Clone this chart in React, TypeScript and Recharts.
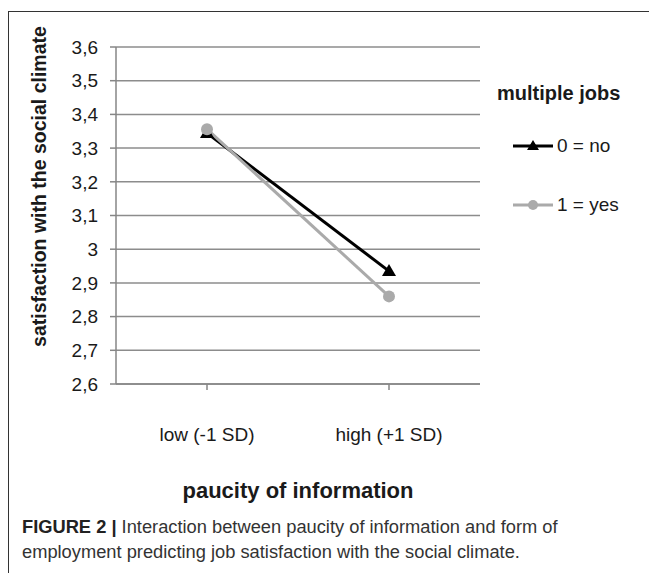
import React from 'react';
import { LineChart, Line, XAxis, YAxis, CartesianGrid, Label } from 'recharts';

const categories = ['low (-1 SD)', 'high (+1 SD)'];
const noJobs = [3.345, 2.935];
const yesJobs = [3.356, 2.86];
const yTicks = [2.6, 2.7, 2.8, 2.9, 3.0, 3.1, 3.2, 3.3, 3.4, 3.5, 3.6];

const seriesInfo = [
  { key: 'no', name: '0 = no', color: '#000000', marker: 'triangle' },
  { key: 'yes', name: '1 = yes', color: '#aaaaaa', marker: 'circle' },
];

const data = categories.map((c, i) => ({ name: c, no: noJobs[i], yes: yesJobs[i] }));

const FONT = '"Liberation Sans", Arial, sans-serif';
const TEXT = '#1a1a1a';

const fmt = (v: number) => String(Math.round(v * 10) / 10).replace('.', ',');

const Triangle = (props: any) => {
  const { cx, cy, fill } = props;
  if (cx == null || cy == null) return null;
  return <polygon points={`${cx},${cy - 7} ${cx + 7},${cy + 5} ${cx - 7},${cy + 5}`} fill={fill} />;
};

const Marker = ({ type, color, cx, cy }: { type: string; color: string; cx: number; cy: number }) =>
  type === 'triangle' ? (
    <polygon points={`${cx},${cy - 6} ${cx + 6},${cy + 4} ${cx - 6},${cy + 4}`} fill={color} />
  ) : (
    <circle cx={cx} cy={cy} r={5} fill={color} />
  );

const YTitle = (props: any) => {
  const vb = props.viewBox || {};
  const x = 30;
  const y = vb.y + vb.height / 2 - 29;
  return (
    <text x={x} y={y} transform={`rotate(-90 ${x} ${y})`} textAnchor="middle" dominantBaseline="central"
      fontFamily={FONT} fontWeight="bold" fontSize={19.5} fill={TEXT}>
      satisfaction with the social climate
    </text>
  );
};

export default function App() {
  return (
    <div style={{ position: 'relative', marginTop: 3, width: 648, height: 561, borderLeft: '1.5px solid #333', borderTop: '1.5px solid #333', background: '#fff' }}>
      <div style={{ position: 'absolute', left: 0, top: 0 }}>
        <LineChart width={640} height={520} data={data} margin={{ top: 35, right: 169, left: 0, bottom: 0 }}>
          <CartesianGrid vertical={false} stroke="#8c8c8c" strokeWidth={1.5} />
          <XAxis dataKey="name" height={148} tickSize={6} tickMargin={38} stroke="#868686" strokeWidth={1.5}
            padding={{ left: 91, right: 91 }}
            tick={{ fontFamily: FONT, fontSize: 19, fill: TEXT }}>
            <Label value="paucity of information" position="insideTop" offset={98}
              style={{ fontFamily: FONT, fontWeight: 'bold', fontSize: 22, fill: TEXT }} />
          </XAxis>
          <YAxis width={107} domain={[2.6, 3.6]} ticks={yTicks} tickFormatter={fmt} tickSize={6} tickMargin={12}
            stroke="#868686" strokeWidth={1.5} interval={0}
            tick={{ fontFamily: FONT, fontSize: 19, fill: TEXT }}>
            <Label content={<YTitle />} />
          </YAxis>
          <Line dataKey="no" stroke="#000" strokeWidth={3} dot={<Triangle fill="#000" />} activeDot={false} isAnimationActive={false} />
          <Line dataKey="yes" stroke="#aaaaaa" strokeWidth={3} dot={{ r: 6, fill: '#aaaaaa', stroke: 'none' }} activeDot={false} isAnimationActive={false} />
        </LineChart>
      </div>
      <div style={{ position: 'absolute', left: 488, top: 70, fontFamily: FONT, fontWeight: 'bold', fontSize: 20, color: TEXT, whiteSpace: 'nowrap' }}>
        multiple jobs
      </div>
      {seriesInfo.map((s, i) => (
        <div key={s.key} style={{ position: 'absolute', left: 504, top: 122 + i * 59, height: 24, display: 'flex', alignItems: 'center', fontFamily: FONT, fontSize: 19, color: TEXT, whiteSpace: 'nowrap' }}>
          <svg width={40} height={24}>
            <line x1={0} y1={12} x2={40} y2={12} stroke={s.color} strokeWidth={3} />
            <Marker type={s.marker} color={s.color} cx={20} cy={12} />
          </svg>
          <span style={{ marginLeft: 4 }}>{s.name}</span>
        </div>
      ))}
      <div style={{ position: 'absolute', left: 13, top: 503, fontFamily: '"Liberation Sans Narrow", "Liberation Sans", Arial, sans-serif', fontSize: 18.3, lineHeight: '24.5px', color: '#333', whiteSpace: 'nowrap' }}>
        <span style={{ fontWeight: 'bold', color: '#222' }}>FIGURE 2 | </span>Interaction between paucity of information and form of
        <br />
        employment predicting job satisfaction with the social climate.
      </div>
    </div>
  );
}
